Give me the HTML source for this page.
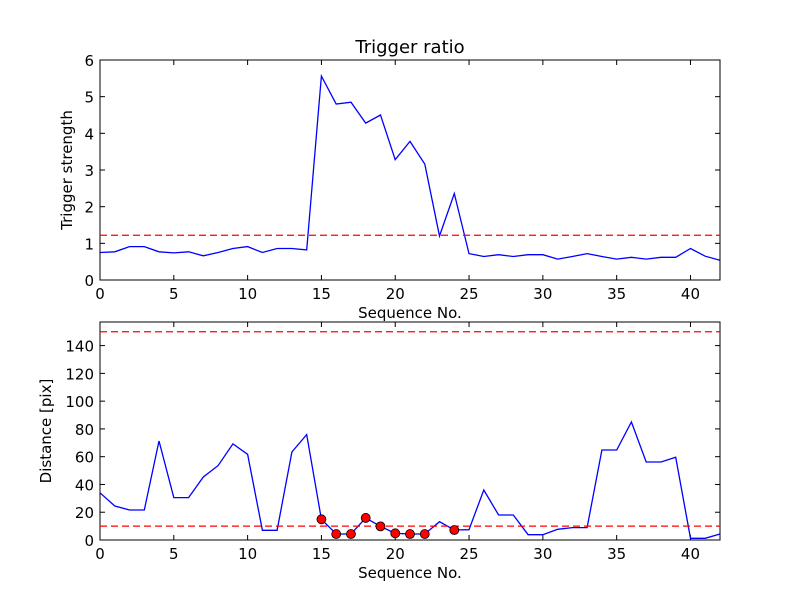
<!DOCTYPE html>
<html><head><meta charset="utf-8"><style>
body{margin:0;background:#fff}
svg text{font-family:"DejaVu Sans","Liberation Sans",sans-serif;fill:#000}
</style></head><body>
<svg id="c" width="800" height="600" xmlns="http://www.w3.org/2000/svg">
<rect width="800" height="600" fill="#fff"/>
</svg>
<script>
const ratioValues=[0.75,0.77,0.91,0.91,0.77,0.74,0.77,0.66,0.75,0.86,0.91,0.75,0.86,0.86,0.82,5.56,4.8,4.85,4.28,4.5,3.28,3.78,3.16,1.2,2.36,0.72,0.64,0.69,0.64,0.69,0.69,0.57,0.64,0.72,0.64,0.57,0.62,0.57,0.62,0.62,0.86,0.65,0.54];
const ratioThreshold=1.22;
const distValues=[34,24.5,21.6,21.6,71.3,30.5,30.5,45.4,53.6,69.2,61.7,7,7,63.4,75.9,14.9,4.3,4.3,15.9,9.8,4.8,4.3,4.3,13.2,7.2,7.4,36,18,18,3.8,3.8,7.7,8.9,8.9,64.8,64.8,85,56.2,56.2,59.6,1.2,1.2,4.3];
const distThresholds=[10,150];
const markerIdx=[15,16,17,18,19,20,21,22,24];
const xTicks=[0,5,10,15,20,25,30,35,40];
const ratioTicks=[0,1,2,3,4,5,6];
const distTicks=[0,20,40,60,80,100,120,140];

const svg=document.getElementById('c');
const NS='http://www.w3.org/2000/svg';
function mk(tag,attrs,name,parent){const e=document.createElementNS(NS,tag);for(const k in attrs)e.setAttribute(k,attrs[k]);


(parent||svg).appendChild(e);return e;}
function txt(x,y,s,name,anchor,size,rot){const t=mk('text',{x:x,y:y,'text-anchor':anchor||'middle','font-size':size||15},name);if(rot)t.setAttribute('transform','rotate(-90 '+x+' '+y+')');t.textContent=s;return t;}

function panel(top,bot,ymax,vals,yt,ylabel,prefix){
  const L=100,R=720;
  const xs=v=>L+(v/42)*(R-L);
  const ys=v=>bot-(v/ymax)*(bot-top);
  const g=mk('g',{},prefix+'-panel');
  xTicks.forEach(t=>{mk('line',{x1:xs(t),x2:xs(t),y1:bot,y2:bot-5,stroke:'#000'},prefix+'-x-tick',g);mk('line',{x1:xs(t),x2:xs(t),y1:top,y2:top+5,stroke:'#000'},prefix+'-x-tick-top',g);txt(xs(t),bot+19,String(t),prefix+'-x-tick-label');});
  yt.forEach(t=>{mk('line',{x1:L,x2:L+5,y1:ys(t),y2:ys(t),stroke:'#000'},prefix+'-y-tick',g);mk('line',{x1:R,x2:R-5,y1:ys(t),y2:ys(t),stroke:'#000'},prefix+'-y-tick-right',g);txt(L-6,ys(t)+6,String(t),prefix+'-y-tick-label','end');});
  const pts=vals.map((v,i)=>xs(i).toFixed(1)+','+ys(v).toFixed(1)).join(' ');
  mk('polyline',{points:pts,fill:'none',stroke:'#0000ff','stroke-width':1.3},prefix+'-line',g);
  mk('rect',{x:L,y:top,width:R-L,height:bot-top,fill:'none',stroke:'#000','stroke-width':1},prefix+'-frame',g);
  txt(410,bot+38,'Sequence No.',prefix+'-x-axis-title');
  txt(prefix==='ratio'?72:51,(top+bot)/2,ylabel,prefix+'-y-axis-title','middle',15,true);
  return {xs,ys,L,R};
}
const a=panel(60,280,6,ratioValues,ratioTicks,'Trigger strength','ratio');
mk('line',{x1:a.L,x2:a.R,y1:a.ys(ratioThreshold),y2:a.ys(ratioThreshold),stroke:'#ff0000','stroke-dasharray':'7,4','stroke-width':1.3},'ratio-threshold-line');
txt(410,53,'Trigger ratio','chart-title','middle',18);
const b=panel(322,540,157,distValues,distTicks,'Distance [pix]','distance');
distThresholds.forEach(t=>mk('line',{x1:b.L,x2:b.R,y1:b.ys(t),y2:b.ys(t),stroke:'#ff0000','stroke-dasharray':'7,4','stroke-width':1.3},'distance-threshold-line'));
markerIdx.forEach(i=>mk('circle',{cx:b.xs(i),cy:b.ys(distValues[i]),r:4.5,fill:'#ff0000',stroke:'#000','stroke-width':0.8},'distance-marker'));
</script>
</body></html>
